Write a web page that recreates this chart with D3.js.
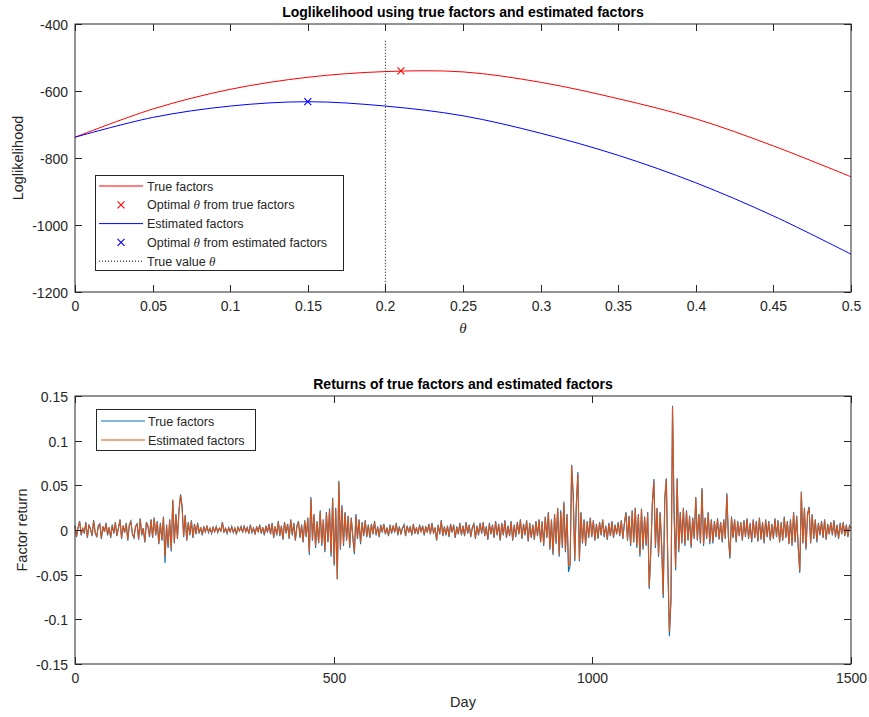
<!DOCTYPE html>
<html>
<head>
<meta charset="utf-8">
<script src="https://cdn.jsdelivr.net/npm/d3@7"></script>
<style>
  body { margin: 0; background: #fff; }
  text { font-family: "Liberation Sans", Arial, sans-serif; fill: #262626; }
  .title { font-weight: bold; fill: #000; }
  .theta { font-family: "Liberation Serif", "Times New Roman", serif; font-style: italic; }
</style>
</head>
<body>
<svg id="chart" width="869" height="717"></svg>
<script>
// ---- top panel data (loglikelihood vs theta)
var thetaGrid = [0, 0.05, 0.1, 0.15, 0.2, 0.25, 0.3, 0.35, 0.4, 0.45, 0.5];
var llTrue = [-738, -654, -595, -559, -542, -543, -574, -623, -683, -764, -856];
var llEst  = [-738, -679, -645, -632, -645, -674, -726, -792, -874, -973, -1087];
var optTrue = {theta: 0.21, ll: -540};
var optEst = {theta: 0.15, ll: -632};
var trueTheta = 0.2, trueThetaSpan = [-450, -1200];
var topXTicks = [0, 0.05, 0.1, 0.15, 0.2, 0.25, 0.3, 0.35, 0.4, 0.45, 0.5];
var topYTicks = [-1200, -1000, -800, -600, -400];

// ---- bottom panel data (returns x1000, one value every 3 days from day 0)
var dayStep = 3;
var retTrue = [
  5,-8,3,10,-6,2,-4,9,-9,6,1,-7,11,-3,-8,5,7,-10,4,-2,8,-6,3,-9,6,
  -4,9,-7,2,12,-10,5,-3,8,-12,6,10,-5,-9,4,7,-11,13,-6,2,-14,9,5,-8,12,
  -9,14,-6,10,-16,8,-12,15,-37,6,-20,12,-24,33,-15,18,-10,22,40,27,-8,17,-12,9,-6,
  11,-9,7,-5,8,-4,3,-6,4,-2,5,-3,2,-4,3,-2,4,-3,2,-1,9,-3,2,-4,3,
  -2,4,-3,2,-5,3,-1,4,-3,5,-2,3,-4,6,-3,2,-5,4,-2,6,-4,3,-6,5,-3,
  7,-5,8,-9,4,-6,10,-7,5,-11,9,-4,7,-10,12,-6,8,-12,5,10,-9,6,-14,11,-8,
  14,-28,37,-12,18,-20,10,-15,22,-18,12,-25,20,-14,24,-30,36,-40,25,-55,55,-22,28,-18,20,
  -12,16,-20,14,-8,-27,18,-10,12,-16,9,-7,11,-8,6,-9,7,-5,10,-6,4,-8,6,-3,7,
  -5,3,-7,6,-4,5,-3,8,-6,4,-5,2,6,-7,5,-3,4,-6,7,-4,3,-5,6,-2,5,
  -6,4,-3,7,-5,8,-4,3,-12,6,-5,11,-7,4,-6,5,-8,7,-3,6,-9,4,-5,8,-6,
  5,-7,9,-4,6,-8,3,7,-10,5,-6,8,-4,9,-7,4,-11,8,-5,6,-9,10,-6,7,-12,
  8,-6,11,-9,5,-7,10,-12,6,-8,9,-5,12,-10,7,-6,11,-13,8,-9,6,-11,10,-7,12,
  -14,10,-18,15,-9,20,-22,12,-28,18,-16,25,-30,22,-20,32,-25,18,-47,-40,73,40,-35,28,65,
  -35,20,-15,12,-18,10,-9,14,-8,11,-12,7,-10,9,-6,12,-8,5,-11,8,-7,10,-9,6,-5,
  9,-7,11,-10,8,20,-12,16,-18,22,-14,25,-20,18,-30,24,-22,15,-18,20,-66,-25,30,57,-20,
  25,-30,20,-18,-76,35,58,-40,-119,-80,139,20,-45,58,-25,20,-15,25,-18,22,-12,16,-20,14,-10,
  37,-12,18,-15,47,-18,14,-10,20,-16,12,-15,10,-8,13,-11,9,-14,12,-10,41,-8,-32,15,-9,
  12,-14,10,-7,9,-12,11,-8,13,-10,8,-14,12,-9,10,-13,14,-11,9,-15,12,-8,10,-12,7,
  -10,13,-8,11,-14,9,-12,15,-9,10,-16,12,-18,20,-14,16,-20,-48,43,-15,25,-22,18,26,-15,
  18,-10,12,-14,8,-6,10,-9,12,-11,7,-5,9,-6,11,-8,6,-10,8,-5,9,-7,6,-8,5,
  2
];
var retEst = [
  4,-7,3,9,-5,2,-3,8,-8,5,1,-6,10,-3,-7,4,6,-9,4,-2,7,-5,3,-8,5,
  -3,8,-6,2,11,-9,5,-3,7,-11,5,9,-4,-8,4,6,-10,12,-5,2,-13,8,4,-7,11,
  -8,13,-5,9,-15,7,-11,14,-30,5,-18,11,-22,34,-14,17,-9,21,39,25,-7,16,-11,8,-5,
  10,-8,6,-4,7,-3,3,-5,3,-2,4,-2,2,-3,3,-2,3,-2,2,-1,8,-2,2,-3,2,
  -2,3,-2,2,-4,3,-1,3,-2,4,-2,2,-3,5,-2,2,-4,3,-2,5,-3,3,-5,4,-2,
  6,-4,7,-8,4,-5,9,-6,4,-10,8,-3,6,-9,11,-5,7,-11,4,9,-8,5,-13,10,-7,
  13,-25,35,-11,17,-18,9,-14,20,-16,11,-23,19,-13,22,-27,35,-38,23,-55,54,-20,26,-16,19,
  -11,15,-18,13,-7,-25,16,-9,11,-14,8,-6,10,-7,5,-8,6,-4,9,-5,3,-7,5,-2,6,
  -4,2,-6,5,-3,4,-2,7,-5,3,-4,2,5,-6,4,-2,3,-5,6,-3,2,-4,5,-2,4,
  -5,3,-2,6,-4,7,-3,2,-11,5,-4,10,-6,3,-5,4,-7,6,-2,5,-8,3,-4,7,-5,
  4,-6,8,-3,5,-7,2,6,-9,4,-5,7,-3,8,-6,3,-10,7,-4,5,-8,9,-5,6,-11,
  7,-5,10,-8,4,-6,9,-11,5,-7,8,-4,11,-9,6,-5,10,-12,7,-8,5,-10,9,-6,11,
  -13,9,-16,14,-8,19,-20,11,-26,17,-14,24,-28,20,-18,30,-23,17,-40,-38,72,38,-33,27,63,
  -33,19,-14,11,-16,9,-8,13,-7,10,-11,6,-9,8,-5,11,-7,4,-10,7,-6,9,-8,5,-4,
  8,-6,10,-9,7,19,-11,15,-16,21,-13,24,-18,17,-27,23,-20,14,-16,19,-64,-23,29,55,-18,
  24,-28,19,-16,-73,34,57,-38,-114,-76,138,19,-42,57,-23,19,-14,24,-16,21,-11,15,-18,13,-9,
  36,-11,17,-13,46,-16,13,-9,19,-14,11,-13,9,-7,12,-10,8,-12,11,-9,40,-7,-30,14,-8,
  11,-12,9,-6,8,-11,10,-7,12,-9,7,-12,11,-8,9,-12,13,-10,8,-13,11,-7,9,-11,6,
  -9,12,-7,10,-13,8,-11,14,-8,9,-15,11,-16,19,-13,15,-18,-46,42,-14,24,-20,17,25,-14,
  17,-9,11,-12,7,-5,9,-8,11,-10,6,-4,8,-5,10,-7,5,-9,7,-4,8,-6,5,-7,4,
  2
];
var botXTicks = [0, 500, 1000, 1500];
var botYTicks = [-0.15, -0.1, -0.05, 0, 0.05, 0.1, 0.15];

var svg = d3.select("#chart");
var axisColor = "#262626",
    tickLen = 7;

function box(g, x, y, xTicks, yTicks, fmtX, fmtY) {
  var x0 = x.range()[0], x1 = x.range()[1], y0 = y.range()[0], y1 = y.range()[1];
  g.append("rect")
    .attr("x", x0).attr("y", y1)
    .attr("width", x1 - x0).attr("height", y0 - y1)
    .attr("fill", "none").attr("stroke", axisColor).attr("stroke-width", 1);
  xTicks.forEach(function(t) {
    var px = Math.round(x(t)) + 0.5;
    g.append("line").attr("x1", px).attr("x2", px).attr("y1", y0).attr("y2", y0 - tickLen).attr("stroke", axisColor);
    g.append("line").attr("x1", px).attr("x2", px).attr("y1", y1).attr("y2", y1 + tickLen).attr("stroke", axisColor);
    g.append("text").attr("x", px).attr("y", y0 + 19)
      .attr("text-anchor", "middle").style("font-size", "14px").text(fmtX(t));
  });
  yTicks.forEach(function(t) {
    var py = Math.round(y(t)) + 0.5;
    g.append("line").attr("x1", x0).attr("x2", x0 + tickLen).attr("y1", py).attr("y2", py).attr("stroke", axisColor);
    g.append("line").attr("x1", x1).attr("x2", x1 - tickLen).attr("y1", py).attr("y2", py).attr("stroke", axisColor);
    g.append("text").attr("x", x0 - 7).attr("y", py + 5)
      .attr("text-anchor", "end").style("font-size", "14px").text(fmtY(t));
  });
}

function cross(g, cx, cy, color) {
  var s = 3.5;
  g.append("path")
    .attr("d", "M" + (cx - s) + "," + (cy - s) + "L" + (cx + s) + "," + (cy + s) +
               "M" + (cx - s) + "," + (cy + s) + "L" + (cx + s) + "," + (cy - s))
    .attr("stroke", color).attr("stroke-width", 1.1).attr("fill", "none");
}

// ================= top panel
var xTop = d3.scaleLinear().domain([0, 0.5]).range([75, 851]),
    yTop = d3.scaleLinear().domain([-1200, -400]).range([292, 24]);
var topG = svg.append("g");

var llLine = d3.line()
  .x(function(d) { return xTop(d[0]); })
  .y(function(d) { return yTop(d[1]); })
  .curve(d3.curveCatmullRom);

topG.append("path")
  .datum(trueThetaSpan.map(function(v) { return [trueTheta, v]; }))
  .attr("d", d3.line().x(function(d) { return xTop(d[0]); }).y(function(d) { return yTop(d[1]); }))
  .attr("stroke", "#000").attr("stroke-width", 1).attr("stroke-dasharray", "1,2").attr("fill", "none");

topG.append("path")
  .datum(thetaGrid.map(function(t, i) { return [t, llTrue[i]]; }))
  .attr("d", llLine).attr("stroke", "#ff0000").attr("stroke-width", 1).attr("fill", "none");
topG.append("path")
  .datum(thetaGrid.map(function(t, i) { return [t, llEst[i]]; }))
  .attr("d", llLine).attr("stroke", "#0000ff").attr("stroke-width", 1).attr("fill", "none");

cross(topG, xTop(optTrue.theta), yTop(optTrue.ll), "#ff0000");
cross(topG, xTop(optEst.theta), yTop(optEst.ll), "#0000ff");

box(topG, xTop, yTop, topXTicks, topYTicks,
    function(t) { return String(t); }, function(t) { return String(t); });

topG.append("text").attr("class", "title").attr("x", 463).attr("y", 17)
  .attr("text-anchor", "middle").style("font-size", "14px")
  .text("Loglikelihood using true factors and estimated factors");
topG.append("text").attr("class", "theta").attr("x", 463).attr("y", 333)
  .attr("text-anchor", "middle").style("font-size", "15px").text("θ");
topG.append("text").attr("transform", "translate(23,158) rotate(-90)")
  .attr("text-anchor", "middle").style("font-size", "14.5px").text("Loglikelihood");

// top legend
var lg = topG.append("g");
lg.append("rect").attr("x", 95.5).attr("y", 175.5).attr("width", 248).attr("height", 95)
  .attr("fill", "#fff").attr("stroke", axisColor);
var topLegend = [
  {label: ["True factors"], type: "line", color: "#ff0000"},
  {label: ["Optimal ", "θ", " from true factors"], type: "x", color: "#ff0000"},
  {label: ["Estimated factors"], type: "line", color: "#0000ff"},
  {label: ["Optimal ", "θ", " from estimated factors"], type: "x", color: "#0000ff"},
  {label: ["True value ", "θ"], type: "dot", color: "#000"}
];
topLegend.forEach(function(d, i) {
  var cy = 186 + i * 18.8;
  if (d.type === "line" || d.type === "dot") {
    lg.append("line").attr("x1", 99).attr("x2", 143).attr("y1", cy).attr("y2", cy)
      .attr("stroke", d.color).attr("stroke-dasharray", d.type === "dot" ? "1,2" : null);
  } else {
    cross(lg, 121, cy, d.color);
  }
  var t = lg.append("text").attr("x", 147).attr("y", cy + 4.5).style("font-size", "12.5px");
  d.label.forEach(function(s) {
    var sp = t.append("tspan").text(s);
    if (s === "θ") sp.attr("class", "theta").style("font-size", "13px");
  });
});

// ================= bottom panel
var xBot = d3.scaleLinear().domain([0, 1500]).range([75, 851]),
    yBot = d3.scaleLinear().domain([-0.15, 0.15]).range([664, 396]);
var botG = svg.append("g");

var retLine = d3.line()
  .x(function(d, i) { return xBot(i * dayStep); })
  .y(function(d) { return yBot(d / 1000); });

botG.append("path").datum(retTrue).attr("d", retLine)
  .attr("stroke", "#0072bd").attr("stroke-width", 1.1).attr("fill", "none");
botG.append("path").datum(retEst).attr("d", retLine)
  .attr("stroke", "#d95319").attr("stroke-width", 1.1).attr("fill", "none");

box(botG, xBot, yBot, botXTicks, botYTicks,
    function(t) { return String(t); }, function(t) { return String(+t.toFixed(2)); });

botG.append("text").attr("class", "title").attr("x", 463).attr("y", 389)
  .attr("text-anchor", "middle").style("font-size", "14px")
  .text("Returns of true factors and estimated factors");
botG.append("text").attr("x", 463).attr("y", 707)
  .attr("text-anchor", "middle").style("font-size", "14.5px").text("Day");
botG.append("text").attr("transform", "translate(27,530) rotate(-90)")
  .attr("text-anchor", "middle").style("font-size", "14.5px").text("Factor return");

var bl = botG.append("g");
bl.append("rect").attr("x", 96.5).attr("y", 409.5).attr("width", 159).attr("height", 41)
  .attr("fill", "#fff").attr("stroke", axisColor);
[{label: "True factors", color: "#0072bd"}, {label: "Estimated factors", color: "#d95319"}]
  .forEach(function(d, i) {
    var cy = 421 + i * 19;
    bl.append("line").attr("x1", 101).attr("x2", 145).attr("y1", cy).attr("y2", cy)
      .attr("stroke", d.color).attr("stroke-width", 1.2);
    bl.append("text").attr("x", 148).attr("y", cy + 4.5).style("font-size", "12.5px").text(d.label);
  });
</script>
</body>
</html>
